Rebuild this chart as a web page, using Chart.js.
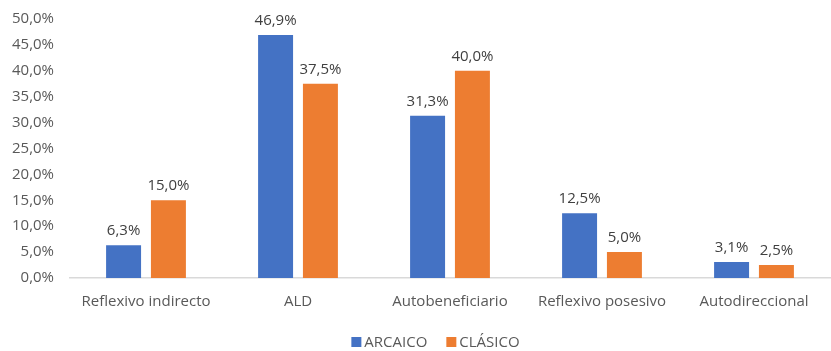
<!DOCTYPE html>
<html><head><meta charset="utf-8">
<script src="https://cdn.jsdelivr.net/npm/chart.js@4/dist/chart.umd.min.js"></script>
<style>html,body{margin:0;padding:0;background:#fff;overflow:hidden}#wrap{width:831px;height:351px;position:relative;overflow:hidden}#c{position:absolute;left:0;top:-6px}</style>
</head><body><div id="wrap"><canvas id="c" width="831" height="358"></canvas></div>
<script>
const categories = ["Reflexivo indirecto", "ALD", "Autobeneficiario", "Reflexivo posesivo", "Autodireccional"];
const arcaico = [6.3, 46.9, 31.3, 12.5, 3.1];
const clasico = [15.0, 37.5, 40.0, 5.0, 2.5];
const seriesNames = ["ARCAICO", "CLÁSICO"];

const fmt = v => v.toFixed(1).replace('.', ',') + '%';
const FONT = "'Open Sans', 'Liberation Sans', sans-serif";
const CANVAS_SHIFT = 6;

const labelPlugin = {
  id: 'vlabels',
  afterDatasetsDraw(chart) {
    const ctx = chart.ctx;
    ctx.save();
    ctx.font = "15px " + FONT;
    ctx.fillStyle = '#404040';
    ctx.textAlign = 'center';
    ctx.textBaseline = 'bottom';
    chart.data.datasets.forEach((ds, i) => {
      chart.getDatasetMeta(i).data.forEach((bar, j) => {
        ctx.fillText(fmt(ds.data[j]), bar.x, bar.y - 7);
      });
    });
    ctx.restore();
  }
};

const legendPlugin = {
  id: 'customLegend',
  afterDraw(chart) {
    const ctx = chart.ctx;
    ctx.save();
    ctx.font = "15px " + FONT;
    ctx.textBaseline = 'middle';
    ctx.textAlign = 'left';
    const box = 10, gapBox = 3, gapItem = 19;
    const items = chart.data.datasets.map(ds => ({ text: ds.label, color: ds.backgroundColor, w: ctx.measureText(ds.label).width }));
    const total = items.reduce((s, it) => s + box + gapBox + it.w, 0) + gapItem * (items.length - 1);
    let x = chart.width / 2 + 20 - total / 2;
    const yc = 342 + CANVAS_SHIFT;
    items.forEach(it => {
      ctx.fillStyle = it.color;
      ctx.fillRect(x, yc - 5, box, box);
      x += box + gapBox;
      ctx.fillStyle = '#595959';
      ctx.fillText(it.text, x, yc + 1);
      x += it.w + gapItem;
    });
    ctx.restore();
  }
};

new Chart(document.getElementById('c'), {
  type: 'bar',
  data: {
    labels: categories,
    datasets: [
      { label: seriesNames[0], data: arcaico, backgroundColor: '#4472C4' },
      { label: seriesNames[1], data: clasico, backgroundColor: '#ED7D31' }
    ]
  },
  options: {
    responsive: false,
    animation: false,
    layout: { padding: { top: 0, right: 1, left: 0, bottom: 26 } },
    datasets: { bar: { categoryPercentage: 0.59, barPercentage: 0.78 } },
    plugins: {
      legend: { display: false },
      tooltip: { enabled: false }
    },
    scales: {
      x: {
        grid: { display: false, drawTicks: false },
        border: { display: true, color: '#D9D9D9', width: 1.5 },
        ticks: { font: { size: 15, family: FONT }, color: '#595959', padding: 15, maxRotation: 0 }
      },
      y: {
        min: 0, max: 50,
        grid: { display: false, drawTicks: false },
        border: { display: false },
        ticks: { stepSize: 5, font: { size: 15, family: FONT }, color: '#595959', padding: 16,
          callback: v => fmt(v) },
        afterFit(s) { s.width = 70; }
      }
    }
  },
  plugins: [labelPlugin, legendPlugin]
});
</script></body></html>
